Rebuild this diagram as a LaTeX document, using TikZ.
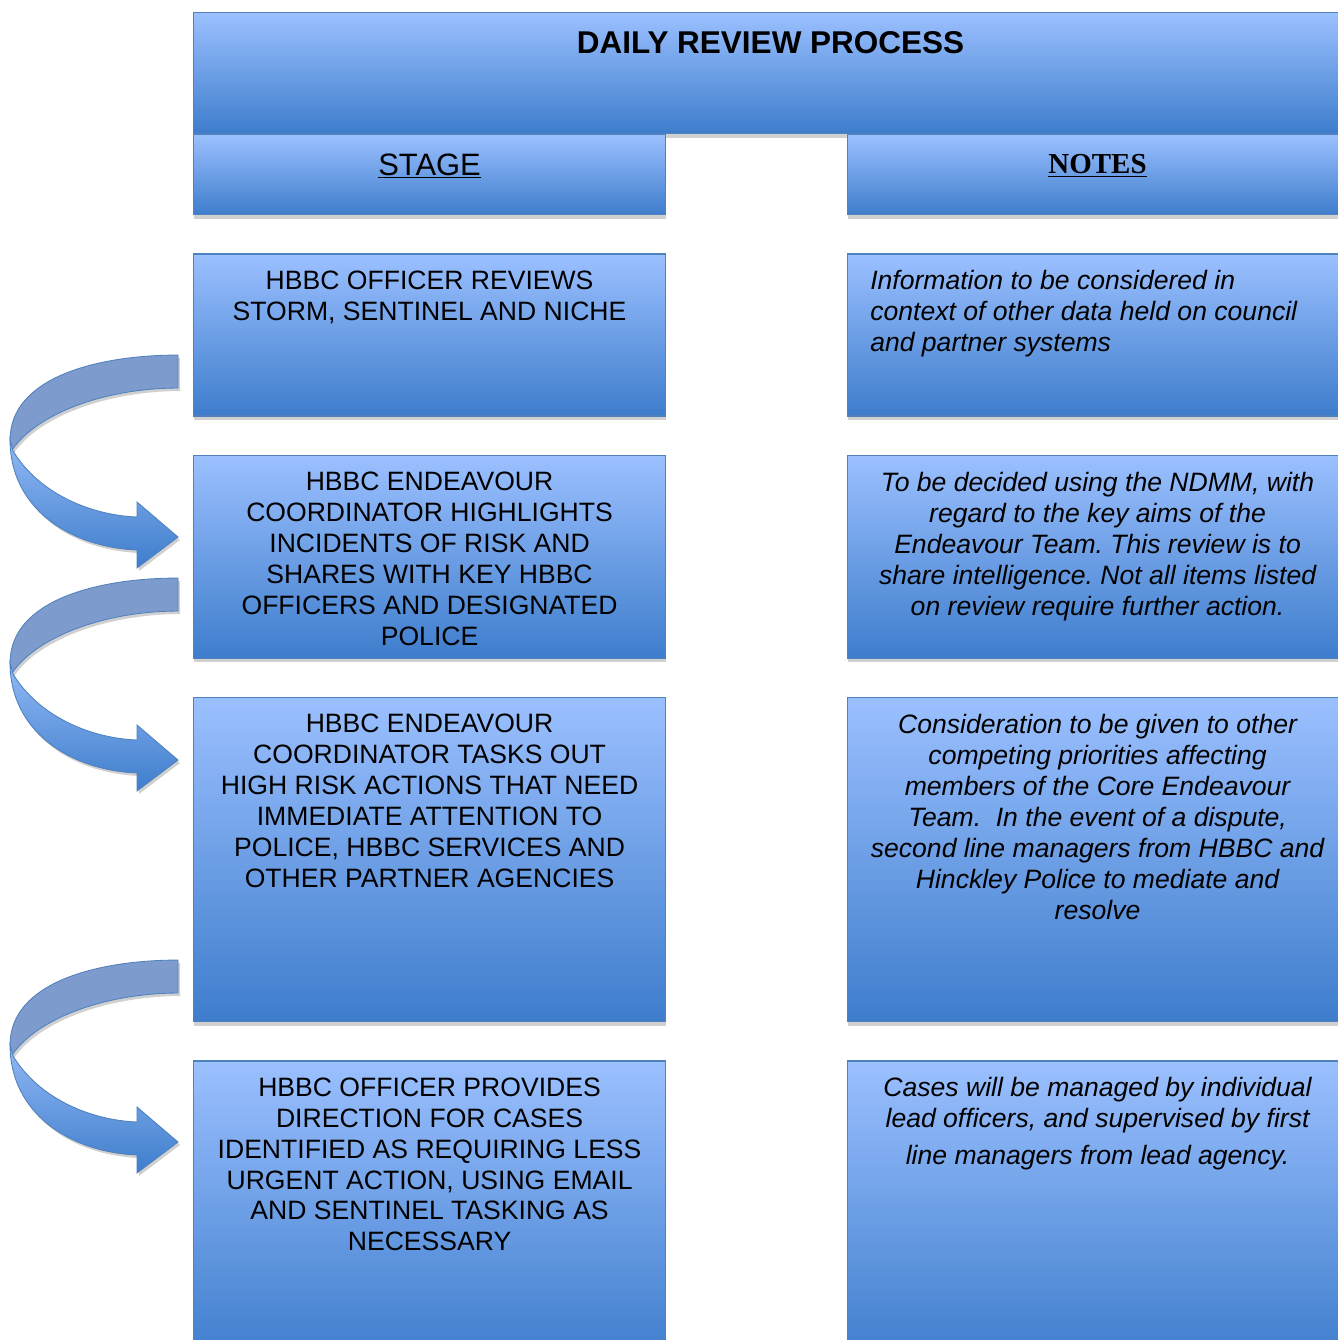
\documentclass[tikz,border=0pt]{standalone}
\usepackage{fontspec}
\setmainfont{Liberation Sans}
\newfontfamily\notesfont{Liberation Serif}
\usetikzlibrary{positioning, shadows}
\frenchspacing
\definecolor{boxtop}{RGB}{155,192,255}
\definecolor{boxbot}{RGB}{62,125,204}
\definecolor{boxline}{RGB}{79,129,189}
\definecolor{shadowgrey}{RGB}{208,208,208}
\definecolor{backblue}{RGB}{125,155,205}
\definecolor{fronttop}{RGB}{145,185,245}
% the two halves of the turning ribbon arrow, tip at (0,0), in pixels
\newcommand{\backband}{(0,182) .. controls (-80,182) and (-168,160) .. (-168,97) -- (-166,87) .. controls (-140,125) and (-70,149) .. (0,149) -- cycle}
\newcommand{\frontband}{(-168,97) .. controls (-168,30) and (-110,-10) .. (-41,-13) -- (-41,-31) -- (0,0) -- (-41,35) -- (-41,20) .. controls (-90,22) and (-140,45) .. (-165,86) -- cycle}
\tikzset{
        node distance=0.955cm, % gap between the rows
        panel/.style={draw=boxline, line width=0.8pt, top color=boxtop, bottom color=boxbot, inner sep=0pt,
          drop shadow={shadow xshift=0cm, shadow yshift=-0.1cm, fill=shadowgrey, opacity=1}},
        stagebox/.style={panel, minimum width=11.8cm},
        notesbox/.style={panel, minimum width=12.5cm},
        body/.style={inner sep=0pt, align=center, font=\fontsize{18.9}{22}\selectfont},
        notetext/.style={body, font=\fontsize{18.9}{22}\selectfont\itshape},
        pics/turnarrow/.style={code={
            \begin{scope}[x=0.025cm, y=0.025cm]
              \fill[shadowgrey, shift={(2,-3)}] \backband \frontband;
              \filldraw[draw=boxline, fill=backblue, line width=0.6pt] \backband;
              \shadedraw[draw=boxline, top color=fronttop, bottom color=boxbot, line width=0.6pt] \frontband;
            \end{scope}
        }},
    }
\begin{document}
\begin{tikzpicture}
    \useasboundingbox (0,0) rectangle (33.45,-33.5);
    % heading and column titles
    \node[panel, minimum width=28.85cm, minimum height=3.025cm, anchor=north west] (title) at (4.825,-0.3) {};
    \node[body, below=0.475cm of title.north, font=\fontsize{22.4}{26}\selectfont\bfseries] (titletext) {DAILY REVIEW PROCESS};
    \node[stagebox, minimum height=2cm, anchor=north west] (stage) at (title.south west) {};
    \node[notesbox, minimum height=2cm, anchor=north east] (notes) at (title.south east) {};
    \node[body, below=0.475cm of stage.north, font=\fontsize{22}{26}\selectfont] (stagetext) {\underline{STAGE}};
    \node[body, below=0.5cm of notes.north, font=\fontsize{20.6}{24}\notesfont\bfseries] (notestext) {\underline{NOTES}};
    % rows
    \node[stagebox, minimum height=4.05cm, below=of stage] (s1) {};
    \node[notesbox, minimum height=4.05cm, below=of notes] (n1) {};
    \node[stagebox, minimum height=5.075cm, below=of s1] (s2) {};
    \node[notesbox, minimum height=5.075cm, below=of n1] (n2) {};
    \node[stagebox, minimum height=8.1cm, below=of s2] (s3) {};
    \node[notesbox, minimum height=8.1cm, below=of n2] (n3) {};
    \node[stagebox, minimum height=7.5cm, below=of s3] (s4) {};
    \node[notesbox, minimum height=7.5cm, below=of n3] (n4) {};
    \node[body, below=0.425cm of s1.north] (s1text) {HBBC OFFICER REVIEWS\\STORM, SENTINEL AND NICHE};
    \node[body, below=0.425cm of s2.north] (s2text) {HBBC ENDEAVOUR\\COORDINATOR HIGHLIGHTS\\INCIDENTS OF RISK AND\\SHARES WITH KEY HBBC\\OFFICERS AND DESIGNATED\\POLICE};
    \node[body, below=0.425cm of s3.north] (s3text) {HBBC ENDEAVOUR\\COORDINATOR TASKS OUT\\HIGH RISK ACTIONS THAT NEED\\IMMEDIATE ATTENTION TO\\POLICE, HBBC SERVICES AND\\OTHER PARTNER AGENCIES};
    \node[body, below=0.425cm of s4.north] (s4text) {HBBC OFFICER PROVIDES\\DIRECTION FOR CASES\\IDENTIFIED AS REQUIRING LESS\\URGENT ACTION, USING EMAIL\\AND SENTINEL TASKING AS\\NECESSARY};
    \node[notetext, align=left, below right=0.425cm and 0.575cm of n1.north west] (n1text) {Information to be considered in\\context of other data held on council\\and partner systems};
    \node[notetext, below=0.425cm of n2.north] (n2text) {To be decided using the NDMM, with\\regard to the key aims of the\\Endeavour Team. This review is to\\share intelligence. Not all items listed\\on review require further action.};
    \node[notetext, below=0.425cm of n3.north] (n3text) {Consideration to be given to other\\competing priorities affecting\\members of the Core Endeavour\\Team.~ In the event of a dispute,\\second line managers from HBBC and\\Hinckley Police to mediate and\\resolve};
    \node[notetext, below=0.425cm of n4.north] (n4text) {Cases will be managed by individual\\lead officers, and supervised by first\\[0.15cm]line managers from lead agency.};
    % turning arrows between the stages
    \pic at (4.45,-13.425) {turnarrow};
    \pic at (4.45,-19.0) {turnarrow};
    \pic at (4.45,-28.55) {turnarrow};
\end{tikzpicture}
\end{document}
